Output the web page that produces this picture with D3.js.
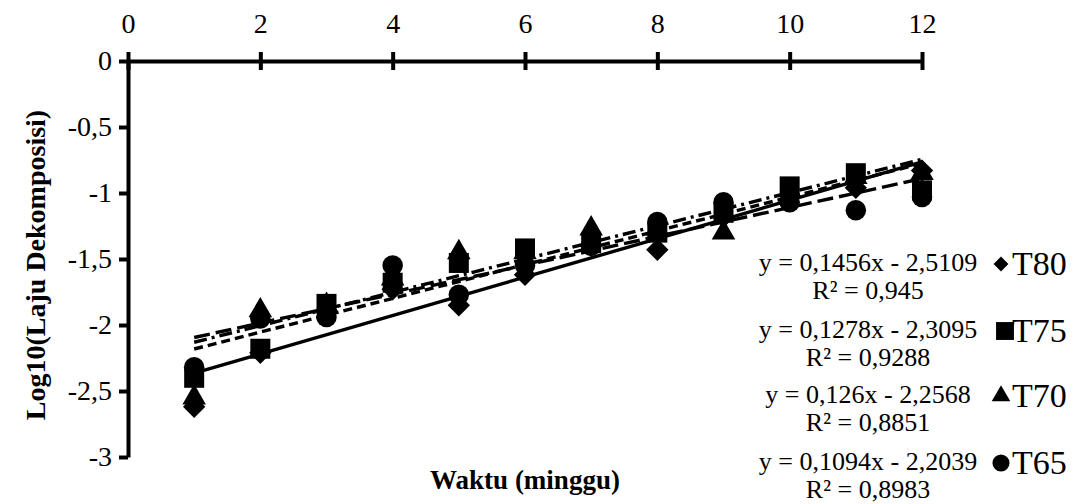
<!DOCTYPE html>
<html>
<head>
<meta charset="utf-8">
<script src="https://cdn.jsdelivr.net/npm/d3@7"></script>
<style>
  body { margin: 0; background: #fff; }
  svg text { font-family: "Liberation Serif", "Times New Roman", serif; fill: #000; }
</style>
</head>
<body>
<svg id="viz" width="1079" height="504"></svg>
<script>
// weeks
var weeks = [1, 2, 3, 4, 5, 6, 7, 8, 9, 10, 11, 12];

// log10 decomposition rate per treatment
var t80 = [-2.62, -2.21, -1.90, -1.73, -1.85, -1.62, -1.40, -1.43, -1.18, -1.02, -0.96, -0.83];
var t75 = [-2.40, -2.18, -1.84, -1.68, -1.53, -1.42, -1.38, -1.30, -1.15, -0.95, -0.85, -0.98];
var t70 = [-2.55, -1.89, -1.85, -1.65, -1.45, -1.45, -1.27, -1.27, -1.30, -0.98, -0.88, -0.85];
var t65 = [-2.32, -1.95, -1.94, -1.55, -1.77, -1.55, -1.40, -1.22, -1.07, -1.07, -1.13, -1.03];

var seriesNames = ["T80", "T75", "T70", "T65"];
var slopes = [0.1456, 0.1278, 0.126, 0.1094];
var intercepts = [-2.5109, -2.3095, -2.2568, -2.2039];
var eqLabels = ["y = 0,1456x - 2,5109", "y = 0,1278x - 2,3095", "y = 0,126x - 2,2568", "y = 0,1094x - 2,2039"];
var r2Labels = ["R² = 0,945", "R² = 0,9288", "R² = 0,8851", "R² = 0,8983"];

var xTicks = [0, 2, 4, 6, 8, 10, 12];
var yTicks = [0, -0.5, -1, -1.5, -2, -2.5, -3];

var allValues = [t80, t75, t70, t65];

var svg = d3.select('svg#viz');

var x = d3.scaleLinear().domain([0, 12]).range([128, 922]);
var y = d3.scaleLinear().domain([0, -3]).range([61, 457]);

var comma = function(d) { return String(d).replace('.', ','); };

// symbols: diamond, square, triangle, circle
var shapes = [
    d3.symbol().type(d3.symbolSquare).size(250),
    d3.symbol().type(d3.symbolSquare).size(400),
    d3.symbol().type(d3.symbolTriangle).size(240),
    d3.symbol().type(d3.symbolCircle).size(330)
];
var legendShapes = [
    d3.symbol().type(d3.symbolSquare).size(110),
    d3.symbol().type(d3.symbolSquare).size(320),
    d3.symbol().type(d3.symbolTriangle).size(150),
    d3.symbol().type(d3.symbolCircle).size(230)
];
var rotations = [45, 0, 0, 0];
var dashes = [null, "9,5", "13,5,3,5", "16,6"];

// markers
allValues.forEach(function(vals, s) {
    svg.append('g').selectAll('path').data(vals).enter()
        .append('path')
        .attr('d', shapes[s])
        .attr('transform', function(d, i) {
            return 'translate(' + x(weeks[i]) + ',' + y(d) + ') rotate(' + rotations[s] + ')';
        })
        .attr('fill', '#000');
});

// trend lines
var line = d3.line().x(function(d) { return x(d[0]); }).y(function(d) { return y(d[1]); });
seriesNames.forEach(function(name, s) {
    var pts = [1, 12].map(function(w) { return [w, slopes[s] * w + intercepts[s]]; });
    svg.append('path')
        .attr('d', line(pts))
        .attr('fill', 'none')
        .attr('stroke', '#000')
        .attr('stroke-width', 3.4)
        .attr('stroke-dasharray', dashes[s]);
});

// x axis on top
var xAxis = svg.append('g').attr('transform', 'translate(0,' + y(0) + ')')
    .call(d3.axisTop(x).tickValues(xTicks).tickSizeInner(9).tickSizeOuter(0).tickPadding(19));
xAxis.select('.domain').attr('stroke-width', 4).attr('stroke', '#000');
xAxis.selectAll('.tick line').attr('stroke-width', 4).attr('y2', 9).attr('y1', -9).attr('stroke', '#000');
xAxis.selectAll('.tick text').attr('font-size', 28).attr('font-family', 'Liberation Serif').attr('dy', 0);

// y axis
var yAxis = svg.append('g').attr('transform', 'translate(' + x(0) + ',0)')
    .call(d3.axisLeft(y).tickValues(yTicks).tickFormat(comma).tickSizeInner(9).tickSizeOuter(0).tickPadding(7));
yAxis.select('.domain').attr('stroke-width', 4).attr('stroke', '#000');
yAxis.selectAll('.tick line').attr('stroke-width', 4).attr('stroke', '#000');
yAxis.selectAll('.tick text').attr('font-size', 28).attr('font-family', 'Liberation Serif');

// axis titles
svg.append('text')
    .attr('x', 525).attr('y', 489)
    .attr('text-anchor', 'middle')
    .attr('font-size', 27).attr('font-weight', 'bold')
    .text('Waktu (minggu)');

svg.append('text')
    .attr('transform', 'translate(45,265) rotate(-90)')
    .attr('text-anchor', 'middle')
    .attr('font-size', 28).attr('font-weight', 'bold')
    .text('Log10(Laju Dekomposisi)');

// legend with equations
var rowY = [263, 330, 395, 462];
seriesNames.forEach(function(name, s) {
    var g = svg.append('g');
    g.append('text')
        .attr('x', 868).attr('y', rowY[s] + 8)
        .attr('text-anchor', 'middle')
        .attr('font-size', 26)
        .text(eqLabels[s]);
    g.append('text')
        .attr('x', 868).attr('y', rowY[s] + 36)
        .attr('text-anchor', 'middle')
        .attr('font-size', 26)
        .text(r2Labels[s]);
    g.append('path')
        .attr('d', legendShapes[s])
        .attr('transform', 'translate(' + (s == 1 ? 1005 : 1001) + ',' + (rowY[s] + 1) + ') rotate(' + rotations[s] + ')')
        .attr('fill', '#000');
    g.append('text')
        .attr('x', 1012).attr('y', rowY[s] + 12)
        .attr('font-size', 34)
        .text(name);
});
</script>
</body>
</html>
